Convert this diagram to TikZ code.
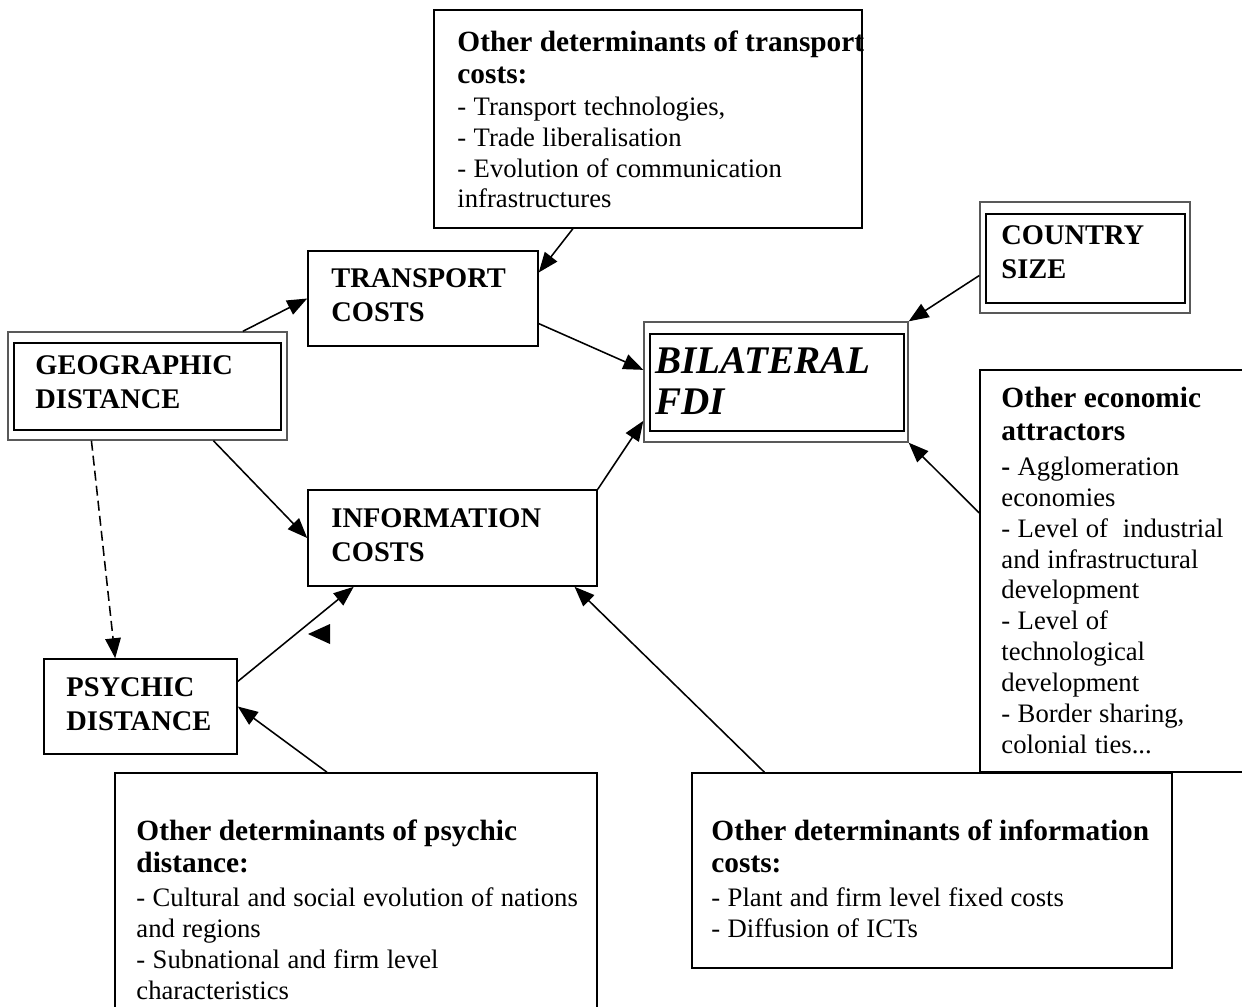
\documentclass[tikz,border=0pt]{standalone}
\usepackage{fontspec}
\setmainfont{Liberation Serif}
\usepackage{tikz}
\usetikzlibrary{arrows.meta, calc, fit}
\newcommand\headfont{\fontsize{13.2}{14.5}\selectfont\bfseries}
\newcommand\bodyfont{\fontsize{12}{13.9}\selectfont}
\newcommand\capsfont{\fontsize{12.8}{15.3}\selectfont\bfseries}
\newcommand\fdifont{\fontsize{17.6}{18.6}\selectfont\bfseries\itshape}
\tikzset{
	box/.style={draw, line width=.7pt, inner sep=0pt},
	outerbox/.style={draw=black!65, line width=.6pt, inner sep=0pt},
	innerbox/.style={draw, line width=1.3pt, inner sep=0pt},
	txt/.style={anchor=north west, inner sep=0pt, align=left},
	arr/.style={line width=.7pt, -{Triangle[length=9pt, width=7pt]}}
}

\begin{document}
\begin{tikzpicture}[x=.45pt, y=-.45pt]
		\useasboundingbox (0,0) rectangle (1242,1006);

		\node[box, fit={(434,10) (862,228)}] (tdet) {};
		\node[box, fit={(308,251) (538,346)}] (tc) {};
		\node[outerbox, fit={(8,332) (287,440)}] (geo) {};
		\node[innerbox, fit={(14,343) (281,430)}] (geoin) {};
		\node[outerbox, fit={(644,322) (908,442)}] (bil) {};
		\node[innerbox, fit={(650,334) (904,431)}] (bilin) {};
		\node[outerbox, fit={(980,202) (1190,313)}] (cs) {};
		\node[innerbox, fit={(986,214) (1185,303)}] (csin) {};
		\node[box, fit={(980,370) (1252,772)}] (econ) {};
		\node[box, fit={(308,490) (597,586)}] (ic) {};
		\node[box, fit={(44,659) (237,754)}] (psy) {};
		\node[box, fit={(115,773) (597,1020)}] (pdet) {};
		\node[box, fit={(692,773) (1172,968)}] (idet) {};

		\node[txt, text width=200pt] (tdettxt) at (457,30) {{\headfont Other determinants of transport\\costs:\par}\vspace{.5pt}{\bodyfont - Transport technologies,\\- Trade liberalisation\\- Evolution of communication\\infrastructures\par}};
		\node[txt, font=\capsfont] (tctxt) at (331,268) {TRANSPORT\\COSTS};
		\node[txt, font=\capsfont] (geotxt) at (35,355) {GEOGRAPHIC\\DISTANCE};
		\node[txt, font=\fdifont] (biltxt) at (655,347) {BILATERAL\\FDI};
		\node[txt, font=\capsfont] (cstxt) at (1001,225) {COUNTRY\\SIZE};
		\node[txt, text width=120pt] (econtxt) at (1001,387) {{\headfont Other economic\\attractors\par}\vspace{2pt}{\bodyfont \textbf{-} Agglomeration\\economies\\- Level of\ \ industrial\\and infrastructural\\development\\- Level of\\technological\\development\\- Border sharing,\\colonial ties...\par}};
		\node[txt, font=\capsfont] (ictxt) at (331,508) {INFORMATION\\COSTS};
		\node[txt, font=\capsfont] (psytxt) at (66,677) {PSYCHIC\\DISTANCE};
		\node[txt, text width=210pt] (pdettxt) at (136,819) {{\headfont Other determinants of psychic\\distance:\par}\vspace{1.5pt}{\bodyfont - Cultural and social evolution of nations\\and regions\\- Subnational and firm level\\characteristics\par}};
		\node[txt, text width=210pt] (idettxt) at (711,819) {{\headfont Other determinants of information\\costs:\par}\vspace{1.5pt}{\bodyfont - Plant and firm level fixed costs\\- Diffusion of ICTs\par}};

		\draw[arr] ($(geo.north west)!.84!(geo.north east)$) -- (tc.west);
		\draw[arr] ($(tdet.south west)!.325!(tdet.south east)$) -- ($(tc.north east)!.23!(tc.south east)$);
		\draw[arr] ($(tc.north east)!.76!(tc.south east)$) -- ($(bil.north west)!.4!(bil.south west)$);
		\draw[arr] ($(cs.north west)!.66!(cs.south west)$) -- (bil.north east);
		\draw[arr] ($(econ.north west)!.356!(econ.south west)$) -- (bil.south east);
		\draw[arr] (ic.north east) -- ($(bil.north west)!.82!(bil.south west)$);
		\draw[arr] ($(geo.south west)!.735!(geo.south east)$) -- (ic.west);
		\draw[arr, dash pattern=on 4.5pt off 2.3pt] ($(geo.south west)!.3!(geo.south east)$) -- ($(psy.north west)!.37!(psy.north east)$);
		\draw[arr] ($(psy.north east)!.24!(psy.south east)$) -- ($(ic.south west)!.16!(ic.south east)$);
		\draw[arr] ($(pdet.north west)!.44!(pdet.north east)$) -- (psy.east);
		\draw[arr] ($(idet.north west)!.152!(idet.north east)$) -- ($(ic.south west)!.92!(ic.south east)$);
		\fill (308,634) -- (330,624) -- (330,644) -- cycle;

	\end{tikzpicture}
\end{document}
